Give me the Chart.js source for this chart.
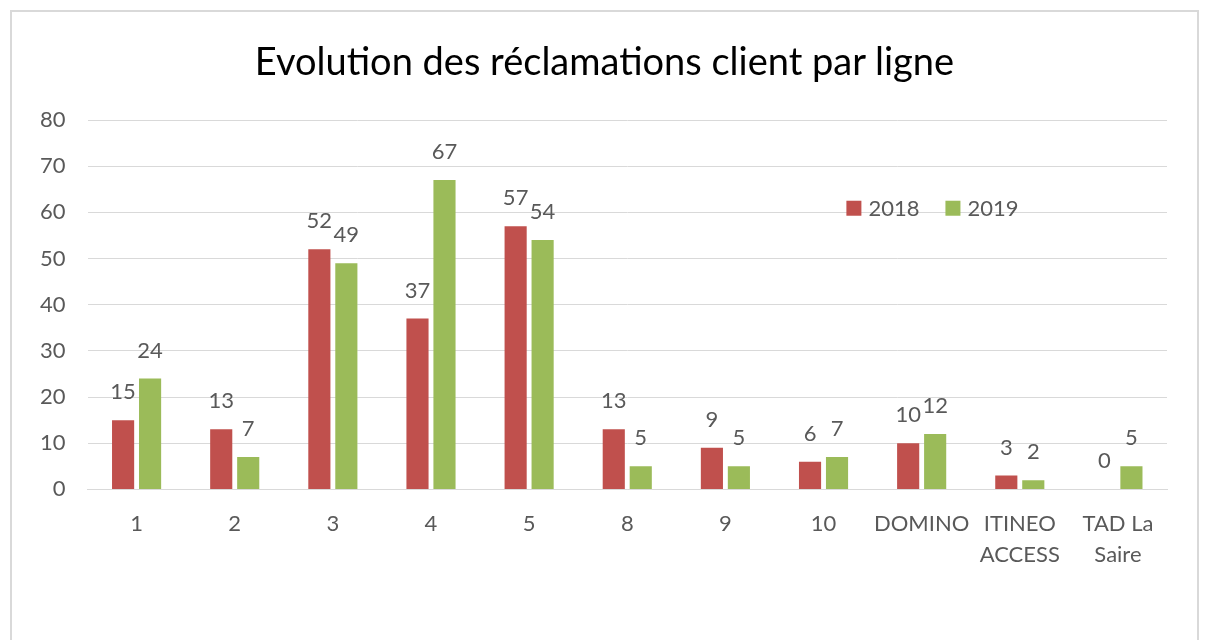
<!DOCTYPE html>
<html>
<head>
<meta charset="utf-8">
<script src="https://cdn.jsdelivr.net/npm/chart.js@4"></script>
<style>
  html, body { margin: 0; padding: 0; background: #fff; }
  #frame { position: absolute; left: 10px; top: 10px; width: 1189px; height: 660px; border: 2px solid #d9d9d9; box-sizing: border-box; }
  #wrap { position: absolute; left: 0; top: 0; width: 1207px; height: 640px; }
  #title { position: absolute; left: 10px; top: 37px; width: 1189px; text-align: center; font: 38px Lato, "Open Sans", sans-serif; line-height: 46px; color: #000; }
</style>
</head>
<body>
<div id="frame"></div>
<div id="wrap"><canvas id="myChart"></canvas></div>
<div id="title">Evolution des réclamations client par ligne</div>
<script>
// Réclamations client par ligne
const categories = ['1', '2', '3', '4', '5', '8', '9', '10', 'DOMINO', ['ITINEO', 'ACCESS'], ['TAD La', 'Saire']];
const values2018 = [15, 13, 52, 37, 57, 13, 9, 6, 10, 3, 0];
const values2019 = [24, 7, 49, 67, 54, 5, 5, 7, 12, 2, 5];
const yTicks = [0, 10, 20, 30, 40, 50, 60, 70, 80];

const FONT = 'Lato, "Open Sans", sans-serif';
const GREY = '#595959';

// values drawn above each bar
const barLabels = {
  id: 'barLabels',
  afterDatasetsDraw(chart) {
    const c = chart.ctx;
    c.save();
    c.font = '22px ' + FONT;
    c.fillStyle = GREY;
    c.textAlign = 'center';
    c.textBaseline = 'middle';
    chart.data.datasets.forEach((ds, i) => {
      chart.getDatasetMeta(i).data.forEach((bar, j) => {
        c.fillText(String(ds.data[j]), bar.x, bar.y - 28);
      });
    });
    c.restore();
  }
};

// legend sits inside the plot, top right
const innerLegend = {
  id: 'innerLegend',
  afterDraw(chart) {
    const c = chart.ctx;
    const a = chart.chartArea;
    let x = a.left + (a.right - a.left) * 0.703;
    const y = chart.scales.y.getPixelForValue(61);
    c.save();
    c.font = '22px ' + FONT;
    c.textBaseline = 'middle';
    chart.data.datasets.forEach(ds => {
      c.fillStyle = ds.backgroundColor;
      c.fillRect(x, y - 7, 15, 15);
      c.fillStyle = GREY;
      c.fillText(ds.label, x + 22, y + 1);
      x += 22 + c.measureText(ds.label).width + 26;
    });
    c.restore();
  }
};

new Chart(document.getElementById('myChart'), {
  type: 'bar',
  data: {
    labels: categories,
    datasets: [
      { label: '2018', data: values2018, backgroundColor: '#c0504d' },
      { label: '2019', data: values2019, backgroundColor: '#9bbb59' }
    ]
  },
  options: {
    responsive: true,
    maintainAspectRatio: false,
    animation: false,
    datasets: { bar: { categoryPercentage: 0.55, barPercentage: 0.82 } },
    layout: { padding: { left: 18, right: 40, top: 120, bottom: 51 } },
    plugins: {
      legend: { display: false },
      tooltip: { enabled: false },
      title: { display: false }
    },
    scales: {
      x: {
        grid: { display: false, drawTicks: false },
        border: { color: '#d9d9d9', width: 1 },
        ticks: { color: GREY, font: { family: FONT, size: 22, lineHeight: 1.4 }, padding: 19, maxRotation: 0, autoSkip: false }
      },
      y: {
        min: 0,
        max: 80,
        afterBuildTicks(axis) { axis.ticks = yTicks.map(v => ({ value: v })); },
        grid: { color: '#d9d9d9', drawTicks: false },
        border: { display: false },
        ticks: { color: GREY, font: { family: FONT, size: 22 }, padding: 22 }
      }
    }
  },
  plugins: [barLabels, innerLegend]
});
</script>
</body>
</html>
